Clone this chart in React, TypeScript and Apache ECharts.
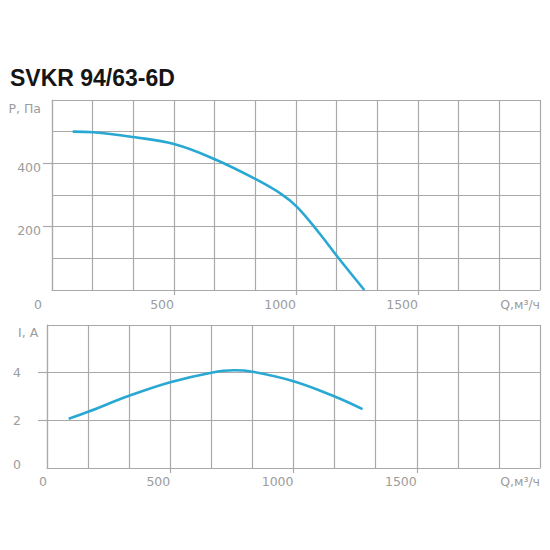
import { useEffect, useRef } from 'react';
import * as echarts from 'echarts';

// Q, м³/ч against P, Па and I, A
const flowMax = 2000;
const pressureMax = 600;
const currentMax = 6;
const pressureFlow = [85, 170, 333, 500, 667, 835, 940, 1005, 1095, 1170, 1280];
const pressure = [500, 498, 483, 461, 413, 350, 303, 262, 180, 105, 0];
const currentFlow = [88, 167, 333, 500, 667, 760, 833, 1000, 1167, 1280];
const current = [2.07, 2.36, 3.03, 3.6, 4.0, 4.1, 4.04, 3.64, 3.0, 2.47];
const flowTicks = [500, 1000, 1500];
const pressureTicks = [200, 400];
const currentTicks = [2, 4];

const gridGrey = '#a9a9a9';
const textGrey = '#9c9c9c';
const curveBlue = '#28a8d2';
const labelFont = 'DejaVu Sans';
const labelSize = 12.5;

const baseText = { color: textGrey, fontFamily: labelFont, fontSize: labelSize };

const gridXAxis = (gridIndex: number) => ({
  gridIndex,
  type: 'value',
  min: 0,
  max: flowMax,
  interval: flowMax / 12,
  axisLine: { show: true, onZero: false, lineStyle: { color: gridGrey, width: 1.2 } },
  axisTick: { show: false },
  axisLabel: { show: false },
  splitLine: { show: true, lineStyle: { color: gridGrey, width: 1.2 } },
});

const labelXAxis = (gridIndex: number, shiftZero: boolean, margin: number) => ({
  gridIndex,
  type: 'value',
  position: 'bottom',
  min: 0,
  max: flowMax,
  interval: 500,
  axisLine: { show: false, onZero: false },
  splitLine: { show: false },
  axisTick: { show: true, length: 5, customValues: flowTicks, lineStyle: { color: gridGrey, width: 1.2 } },
  axisLabel: {
    ...baseText,
    margin,
    align: 'right',
    formatter: (v: number) =>
      v === 0 ? (shiftZero ? '{o|0}' : '0') : v === flowMax ? 'Q,м³/ч' : String(v),
    rich: { o: { ...baseText, padding: [0, 10, 0, 0] } },
  },
});

const gridYAxis = (gridIndex: number, max: number, interval: number) => ({
  gridIndex,
  type: 'value',
  min: 0,
  max,
  interval,
  axisLine: { show: true, onZero: false, lineStyle: { color: gridGrey, width: 1.2 } },
  axisTick: { show: false },
  axisLabel: { show: false },
  splitLine: { show: true, lineStyle: { color: gridGrey, width: 1.2 } },
});

const App = () => {
  const chartDom = useRef<HTMLDivElement | null>(null);

  useEffect(() => {
    if (!chartDom.current) return;
    const myChart = echarts.init(chartDom.current, null, { renderer: 'svg' });
    const option = {
      animation: false,
      backgroundColor: '#ffffff',
      title: {
        text: 'SVKR 94/63-6D',
        left: 5,
        top: 61,
        textStyle: { fontSize: 23, fontWeight: 'bold', fontFamily: 'Liberation Sans', color: '#151515' },
      },
      grid: [
        { left: 52, top: 100, width: 488, height: 190, containLabel: false },
        { left: 47, top: 325, width: 493, height: 143, containLabel: false },
      ],
      xAxis: [gridXAxis(0), labelXAxis(0, true, 8), gridXAxis(1), labelXAxis(1, false, 7)],
      yAxis: [
        gridYAxis(0, pressureMax, 100),
        {
          gridIndex: 0,
          type: 'value',
          position: 'left',
          min: 0,
          max: pressureMax,
          interval: 200,
          axisLine: { show: false, onZero: false },
          splitLine: { show: false },
          axisTick: { show: true, length: 9, customValues: pressureTicks, lineStyle: { color: gridGrey, width: 1.2 } },
          axisLabel: {
            ...baseText,
            customValues: [...pressureTicks, pressureMax],
            margin: 11,
            formatter: (v: number) => (v === pressureMax ? '{u|P, Па}' : `{n|${v}}`),
            rich: {
              u: { ...baseText, padding: [16, 0, 0, 0] },
              n: { ...baseText, padding: [8, 0, 0, 0] },
            },
          },
        },
        gridYAxis(1, currentMax, 2),
        {
          gridIndex: 1,
          type: 'value',
          position: 'left',
          min: 0,
          max: currentMax,
          interval: 2,
          axisLine: { show: false, onZero: false },
          splitLine: { show: false },
          axisTick: { show: true, length: 9, customValues: currentTicks, lineStyle: { color: gridGrey, width: 1.2 } },
          axisLabel: {
            ...baseText,
            customValues: [0, ...currentTicks, currentMax],
            margin: 34,
            align: 'left',
            formatter: (v: number) =>
              v === currentMax ? '{u|I, A}' : v === 0 ? '{z|0}' : `{n|${v}}`,
            rich: {
              u: { ...baseText, padding: [14, 0, 0, 5] },
              z: { ...baseText, padding: [0, 0, 8, 0] },
              n: { ...baseText },
            },
          },
        },
      ],
      series: [
        {
          type: 'line',
          xAxisIndex: 0,
          yAxisIndex: 0,
          data: pressureFlow.map((q, i) => [q, pressure[i]]),
          smooth: 0.4,
          symbol: 'none',
          silent: true,
          lineStyle: { color: curveBlue, width: 2.6 },
        },
        {
          type: 'line',
          xAxisIndex: 2,
          yAxisIndex: 2,
          data: currentFlow.map((q, i) => [q, current[i]]),
          smooth: 0.4,
          symbol: 'none',
          silent: true,
          lineStyle: { color: curveBlue, width: 2.6 },
        },
      ],
    };

    myChart.setOption(option);

    return () => {
      myChart.dispose();
    };
  }, []);

  return (
    <div
      ref={chartDom}
      style={{ position: 'absolute', left: 0, top: 0, width: 550, height: 550, background: '#fff' }}
    />
  );
};

export default App;
